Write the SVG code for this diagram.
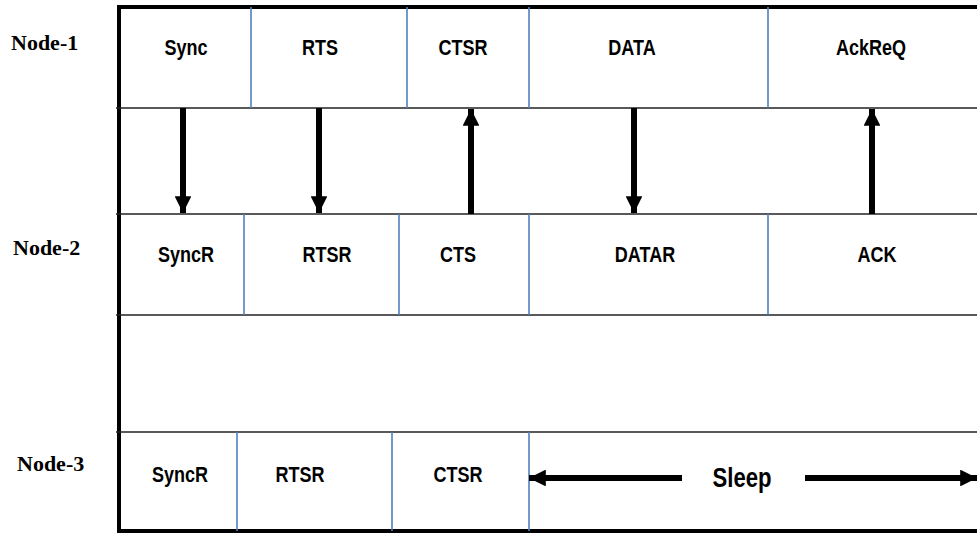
<svg xmlns="http://www.w3.org/2000/svg" width="977" height="533" viewBox="0 0 977 533">
<defs>
<style>
.frame{stroke:#000;stroke-width:4;fill:none}
.row{stroke:#222;stroke-width:1.6;fill:none}
.div{stroke:#4f81bd;stroke-width:1.6;fill:none}
.lbl{font-family:"Liberation Sans",Arial,sans-serif;font-weight:bold;font-size:22px;fill:#000;text-anchor:middle}
.node{font-family:"Liberation Serif","Times New Roman",serif;font-weight:bold;font-size:22px;fill:#000}
.shaft{stroke:#000;stroke-width:6;fill:none}
</style>
<marker id="ah" viewBox="0 0 10 10" refX="10" refY="5" markerWidth="2.8" markerHeight="2.8" markerUnits="strokeWidth" orient="auto">
<path d="M0,0 L10,5 L0,10 Z" fill="#000"/>
</marker>
</defs>
<rect width="977" height="533" fill="#fff"/>
<g id="frame">
<line class="frame" x1="119" y1="5" x2="119" y2="533"/>
<line class="frame" x1="117" y1="7" x2="977" y2="7"/>
<line class="frame" x1="117" y1="531" x2="977" y2="531"/>
<line class="row" x1="116" y1="108" x2="977" y2="108"/>
<line class="row" x1="116" y1="214" x2="977" y2="214"/>
<line class="row" x1="116" y1="315" x2="977" y2="315"/>
<line class="row" x1="116" y1="432" x2="977" y2="432"/>
</g>
<g id="node-1">
<text class="node" x="11" y="50">Node-1</text>
<line class="div" x1="251" y1="7" x2="251" y2="108"/>
<line class="div" x1="407" y1="7" x2="407" y2="108"/>
<line class="div" x1="529" y1="7" x2="529" y2="108"/>
<line class="div" x1="768" y1="7" x2="768" y2="108"/>
<text class="lbl" transform="translate(186,55) scale(0.82,1)">Sync</text>
<text class="lbl" transform="translate(320,55) scale(0.82,1)">RTS</text>
<text class="lbl" transform="translate(463,55) scale(0.82,1)">CTSR</text>
<text class="lbl" transform="translate(632,55) scale(0.82,1)">DATA</text>
<text class="lbl" transform="translate(871,55) scale(0.82,1)">AckReQ</text>
</g>
<g id="node-2">
<text class="node" x="13" y="255">Node-2</text>
<line class="div" x1="244" y1="214" x2="244" y2="315"/>
<line class="div" x1="399" y1="214" x2="399" y2="315"/>
<line class="div" x1="529" y1="214" x2="529" y2="315"/>
<line class="div" x1="768" y1="214" x2="768" y2="315"/>
<text class="lbl" transform="translate(186,262) scale(0.82,1)">SyncR</text>
<text class="lbl" transform="translate(327,262) scale(0.82,1)">RTSR</text>
<text class="lbl" transform="translate(458,262) scale(0.82,1)">CTS</text>
<text class="lbl" transform="translate(645,262) scale(0.82,1)">DATAR</text>
<text class="lbl" transform="translate(877,262) scale(0.82,1)">ACK</text>
</g>
<g id="node-3">
<text class="node" x="17" y="471">Node-3</text>
<line class="div" x1="237" y1="432" x2="237" y2="531"/>
<line class="div" x1="392" y1="432" x2="392" y2="531"/>
<line class="div" x1="529" y1="432" x2="529" y2="531"/>
<text class="lbl" transform="translate(180,482) scale(0.82,1)">SyncR</text>
<text class="lbl" transform="translate(300,482) scale(0.82,1)">RTSR</text>
<text class="lbl" transform="translate(458,482) scale(0.82,1)">CTSR</text>
<text class="lbl" transform="translate(742,487) scale(0.82,1)" style="font-size:27px">Sleep</text>
</g>
<g id="connectors">
<line class="shaft" x1="183" y1="108" x2="183" y2="213" marker-end="url(#ah)"/>
<line class="shaft" x1="319" y1="108" x2="319" y2="213" marker-end="url(#ah)"/>
<line class="shaft" x1="471" y1="214" x2="471" y2="109" marker-end="url(#ah)"/>
<line class="shaft" x1="634" y1="108" x2="634" y2="213" marker-end="url(#ah)"/>
<line class="shaft" x1="872" y1="214" x2="872" y2="109" marker-end="url(#ah)"/>
<line class="shaft" x1="682" y1="478" x2="529" y2="478" marker-end="url(#ah)"/>
<line class="shaft" x1="805" y1="478" x2="977" y2="478" marker-end="url(#ah)"/>
</g>
</svg>
